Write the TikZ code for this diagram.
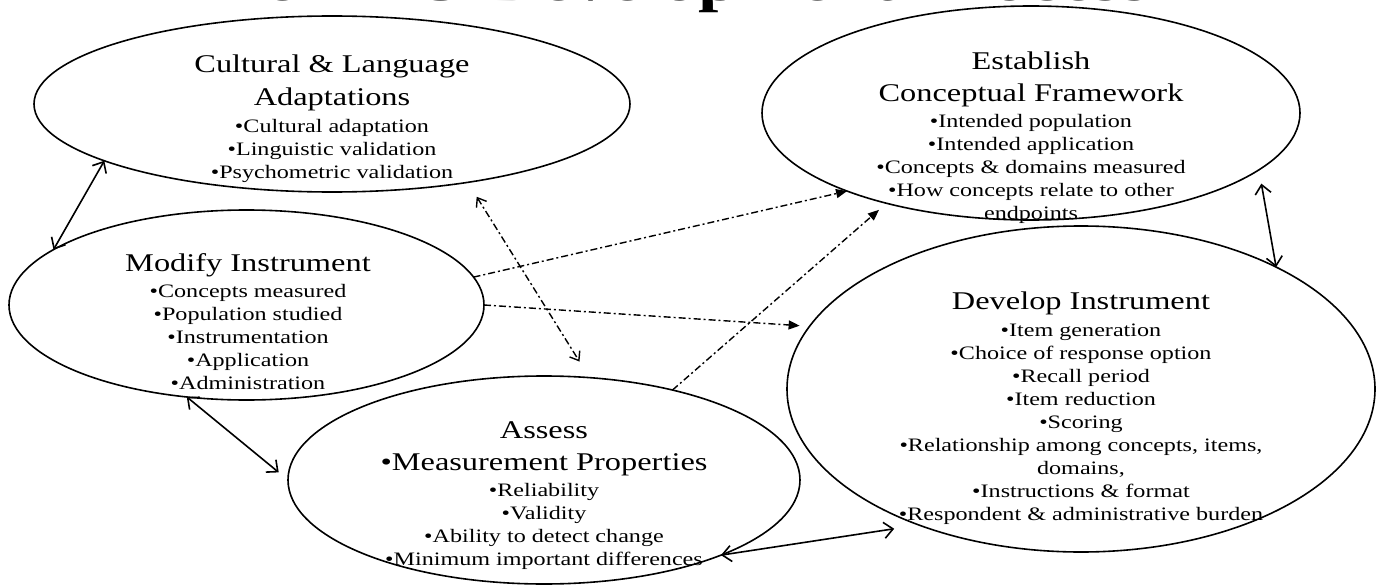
\documentclass[tikz,border=0pt]{standalone}
\usepackage{fontspec}
\setmainfont{Liberation Serif}[FakeStretch=1.27]
\usetikzlibrary{shapes.geometric,arrows.meta}
\newcommand\hd{\fontsize{25.5}{23}\selectfont}
\newcommand\itm{\fontsize{19}{23}\selectfont}
\tikzset{
  blob/.style={ellipse,draw,line width=1.6pt,inner sep=0pt,outer sep=0pt},
  txt/.style={align=center,inner sep=0pt,anchor=north,font=\itm},
  solidarrow/.style={line width=1.6pt,{Straight Barb[length=9pt,width=16pt]}-{Straight Barb[length=9pt,width=16pt]}},
  dd/.style={line width=1.4pt,dash pattern=on 7pt off 3pt on 2pt off 3pt},
  ddboth/.style={dd,{Straight Barb[length=8pt,width=12pt]}-{Straight Barb[length=8pt,width=12pt]}},
  ddto/.style={dd,-{Triangle[length=11pt,width=9pt]}}
}
\begin{document}
\begin{tikzpicture}[x=1pt,y=-1pt]
\useasboundingbox (0,0) rectangle (1377,586);
\fill[white] (0,0) rectangle (1377,586);
% title (cut off by the top edge)
\node[anchor=base west,inner sep=0pt,font=\fontsize{57.5}{60}\selectfont\bfseries] (title) at (175,0.8) {The PRO Development Process};
% ellipses
\node[blob,minimum width=596pt,minimum height=176pt] (cult) at (332,104) {};
\node[blob,minimum width=538pt,minimum height=214pt] (est) at (1031,113) {};
\node[blob,minimum width=475pt,minimum height=190pt] (mod) at (246.5,305) {};
\node[blob,minimum width=512pt,minimum height=208pt] (ass) at (544,480) {};
\node[blob,minimum width=588pt,minimum height=326pt] (dev) at (1081,389) {};
% texts
\node[txt] (cultT) at (332,54.5) {{\hd Cultural \& Language}\\[9pt]{\hd Adaptations}\\[4pt]•Cultural adaptation\\•Linguistic validation\\•Psychometric validation};
\node[txt] (estT) at (1031,51.5) {{\hd Establish}\\[9pt]{\hd Conceptual Framework}\\[3pt]•Intended population\\•Intended application\\•Concepts \& domains measured\\•How concepts relate to other\\endpoints};
\node[txt] (modT) at (248,253.5) {{\hd Modify Instrument}\\[3pt]•Concepts measured\\•Population studied\\•Instrumentation\\•Application\\•Administration};
\node[txt] (assT) at (544,421.5) {{\hd Assess}\\[9pt]{\hd •Measurement Properties}\\[3pt]•Reliability\\•Validity\\•Ability to detect change\\•Minimum important differences};
\node[txt] (devT) at (1081,291.5) {{\hd Develop Instrument}\\[4pt]•Item generation\\•Choice of response option\\•Recall period\\•Item reduction\\•Scoring\\•Relationship among concepts, items,\\domains,\\•Instructions \& format\\•Respondent \& administrative burden};
% solid two-headed connectors
\draw[solidarrow] (cult.194.4) -- (mod.164.1);
\draw[solidarrow,shorten >=12pt] (mod.237.1) -- (ass.180);
\draw[solidarrow,shorten >=25pt] (ass.337.5) -- (dev.220.4);
\draw[solidarrow,shorten <=14pt] (est.346) -- (dev.32.6);
% dash-dot connectors
\draw[ddboth,shorten <=17pt,shorten >=19pt] (cult.330) -- (ass.66.7);
\draw[ddto] (mod.7) -- (est.203);
\draw[ddto,shorten >=10pt] (mod.0) -- (dev.167.4);
\draw[ddto,shorten >=10pt] (ass.35.3) -- (est.212.8);
\end{tikzpicture}
\end{document}
